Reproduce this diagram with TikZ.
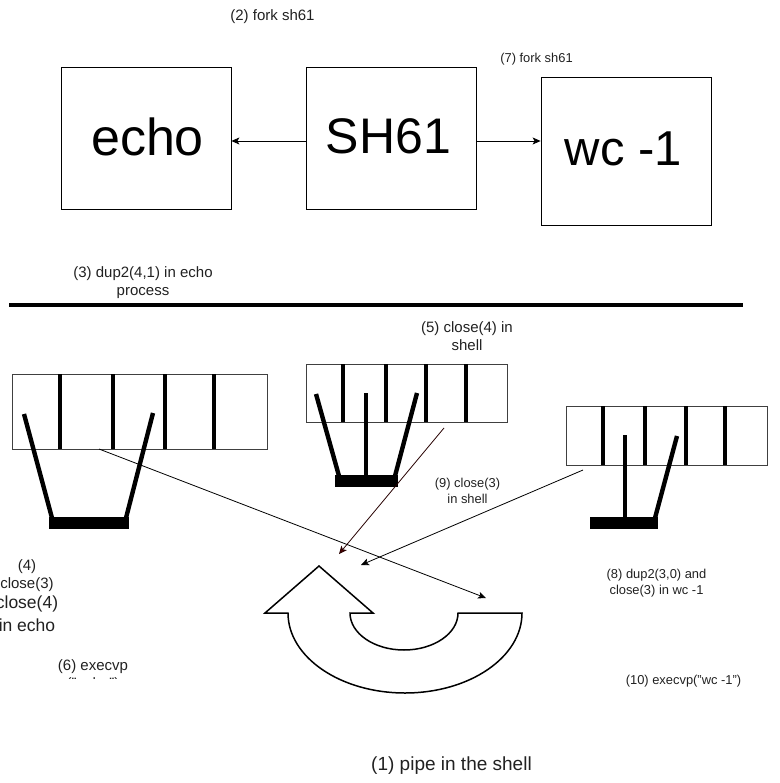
\documentclass[tikz,border=0pt]{standalone}
\usepackage{fontspec}
\setmainfont{Liberation Sans}
\usetikzlibrary{arrows.meta}
\definecolor{txt}{gray}{0.13}
\tikzset{
  x=1pt,y=-1pt,
  procbox/.style={draw=black,line width=0.8pt,minimum width=170pt,minimum height=142pt,inner sep=0pt},
  lab/.style={align=center,inner sep=0pt,text=txt},
  labbig/.style={lab,font=\fontsize{15}{18}\selectfont},
  labsmall/.style={lab,font=\fontsize{12.9}{16}\selectfont},
  fdcell/.style={draw=black!75,line width=1pt},
  fdbar/.style={line width=4pt,black},
  fdleg/.style={line width=4.4pt,black},
  link/.style={line width=0.8pt,-{Stealth[length=8pt,width=7pt,inset=2pt]}},
  shapeline/.style={draw=black,line width=1.5pt,line join=miter}
}
\begin{document}
\begin{tikzpicture}
\useasboundingbox (0,0) rectangle (779,783);
\node[procbox,font=\fontsize{52}{52}\selectfont] (echo) at (146,138) {\hspace*{3pt}\raisebox{2pt}{echo}};
\node[procbox,font=\fontsize{50}{50}\selectfont] (sh) at (391,138) {\hspace*{-5pt}\raisebox{3pt}{SH61}};
\node[procbox,minimum height=148pt,font=\fontsize{49}{49}\selectfont] (wc) at (626,151.5) {\hspace*{-5pt}\raisebox{6pt}{wc -1}};
\coordinate (shL) at ([yshift=-3pt]sh.west);
\coordinate (shR) at ([yshift=-3pt]sh.east);
\draw[link] (shL) -- (echo.east |- shL);
\draw[link] (shR) -- (wc.west |- shR);
\node[labbig] (l2) at (272.5,17) {(2) fork sh61};
\node[labsmall] (l7) at (536.5,59) {(7) fork sh61};
\node[labbig] (l3) at (143,283) {(3) dup2(4,1) in echo\\process};
\coordinate (divA) at (9,305);
\coordinate (divB) at (743,305);
\draw[line width=4pt] (divA) -- (divB);

% array 1
\draw[fdcell] (12,374) rectangle (267,449);
\foreach \x in {60,113,165,214} \draw[fdbar] (\x,374) -- (\x,449);
\fill (49,517) rectangle (129,529);
\draw[fdleg] (24,414) -- (52,518);
\draw[fdleg] (153,413) -- (126,518);

% array 2
\draw[fdcell] (306,364) rectangle (507,422);
\foreach \x in {343,386,426,466} \draw[fdbar] (\x,364) -- (\x,422);
\fill (335,475) rectangle (398,487);
\draw[fdleg] (316,394) -- (339,476);
\draw[fdleg] (366,393) -- (366,476);
\draw[fdleg] (417,393) -- (395,476);

% array 3
\draw[fdcell] (566,406) rectangle (767,465);
\foreach \x in {603,645,686,725} \draw[fdbar] (\x,406) -- (\x,465);
\fill (590,517) rectangle (658,529);
\draw[fdleg] (625,435) -- (625,518);
\draw[fdleg] (677,436) -- (655,518);

% pipe arrow
\draw[shapeline] (319,566) -- (373,613) -- (350,613)
  arc[start angle=180,end angle=360,x radius=54,y radius=-37]
  -- (522,613)
  arc[start angle=0,end angle=180,x radius=117,y radius=80]
  -- (265,613) -- cycle;

% connectors
\coordinate (a1) at (99,449);
\coordinate (a2) at (486,598);
\coordinate (b1) at (444,428);
\coordinate (b2) at (339,554);
\coordinate (c1) at (583,470);
\coordinate (c2) at (361,565);
\draw[link] (a1) -- (a2);
\draw[link,draw=black!75!red!60!black,-{Stealth[length=8pt,width=7pt,inset=2pt,fill=red!30!black]}] (b1) -- (b2);
\draw[link] (c1) -- (c2);

\node[labbig] (l5) at (467,336) {(5) close(4) in\\shell};
\node[labsmall] (l9) at (467.5,490.5) {(9) close(3)\\in shell};
\node[labsmall] (l8) at (656.5,583.5) {(8) dup2(3,0) and\\close(3) in wc -1};
\node[labbig] (l4a) at (27,567) {(4)};
\node[labbig] (l4b) at (27,585) {close(3)};
\node[lab,font=\fontsize{17.5}{18}\selectfont] (l4c) at (27,604) {close(4)};
\node[lab,font=\fontsize{17.5}{18}\selectfont] (l4d) at (27,625) {in echo};
\begin{scope}
\clip (40,650) rectangle (160,678);
\node[labbig,anchor=north] (l6) at (93,659) {(6) execvp\\("echo")};
\end{scope}
\node[labsmall] (l10) at (683.5,681.5) {(10) execvp("wc -1")};
\node[lab,font=\fontsize{19}{20}\selectfont] (l1) at (451.5,766) {(1) pipe in the shell};
\end{tikzpicture}
\end{document}
